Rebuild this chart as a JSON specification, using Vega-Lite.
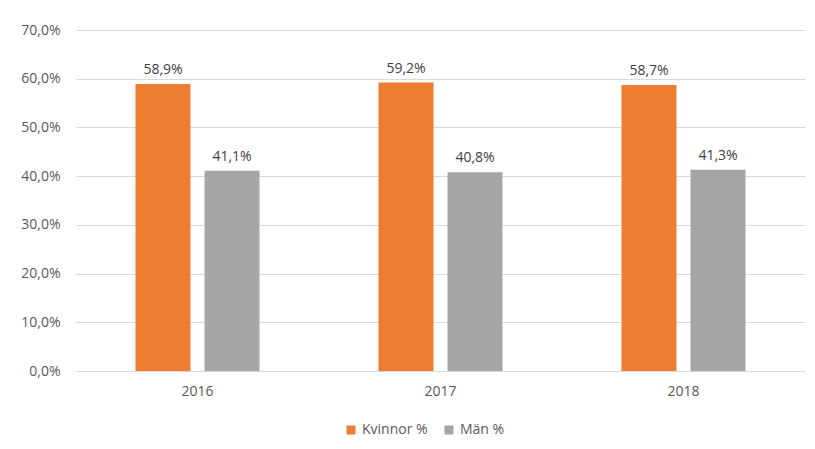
{
  "$schema": "https://vega.github.io/schema/vega-lite/v6.json",
  "width": 729,
  "height": 341,
  "autosize": {"type": "none"},
  "padding": {"left": 76, "top": 30, "right": 10, "bottom": 78},
  "background": "white",
  "config": {
    "locale": {"number": {"decimal": ",", "thousands": " ", "grouping": [3], "currency": ["", " kr"]}},
    "font": "Open Sans",
    "view": {"stroke": null}
  },
  "data": {
    "values": [
      {"year": "2016", "group": "Kvinnor %", "value": 0.589},
      {"year": "2016", "group": "Män %", "value": 0.411},
      {"year": "2017", "group": "Kvinnor %", "value": 0.592},
      {"year": "2017", "group": "Män %", "value": 0.408},
      {"year": "2018", "group": "Kvinnor %", "value": 0.587},
      {"year": "2018", "group": "Män %", "value": 0.413}
    ]
  },
  "encoding": {
    "x": {
      "field": "year", "type": "nominal",
      "scale": {"paddingInner": 0, "paddingOuter": 0},
      "axis": {"title": null, "labelAngle": 0, "domain": false, "ticks": false, "labelPadding": 13, "labelFontSize": 14, "labelColor": "#595959"}
    },
    "xOffset": {
      "field": "group", "type": "nominal",
      "scale": {"paddingInner": 0.203, "paddingOuter": 0.862}
    },
    "y": {
      "field": "value", "type": "quantitative",
      "scale": {"domain": [0, 0.7], "nice": false},
      "axis": {"title": null, "format": ".1%", "values": [0, 0.1, 0.2, 0.3, 0.4, 0.5, 0.6, 0.7], "domain": false, "ticks": false, "labelPadding": 16, "labelFontSize": 14, "labelColor": "#595959", "gridColor": "#d9d9d9", "gridWidth": 1}
    }
  },
  "layer": [
    {
      "mark": {"type": "bar"},
      "encoding": {
        "color": {
          "field": "group", "type": "nominal",
          "scale": {"domain": ["Kvinnor %", "Män %"], "range": ["#ED7D31", "#A5A5A5"]},
          "legend": {
            "title": null, "orient": "none", "direction": "horizontal",
            "legendX": 268, "legendY": 393,
            "symbolType": "square", "symbolSize": 81, "symbolStrokeWidth": 0,
            "labelFontSize": 14, "labelColor": "#595959", "columnPadding": 14, "labelOffset": 4
          }
        }
      }
    },
    {
      "mark": {"type": "text", "baseline": "bottom", "dy": -7, "fontSize": 14, "color": "#404040"},
      "encoding": {
        "text": {"field": "value", "type": "quantitative", "format": ".1%"}
      }
    }
  ]
}
